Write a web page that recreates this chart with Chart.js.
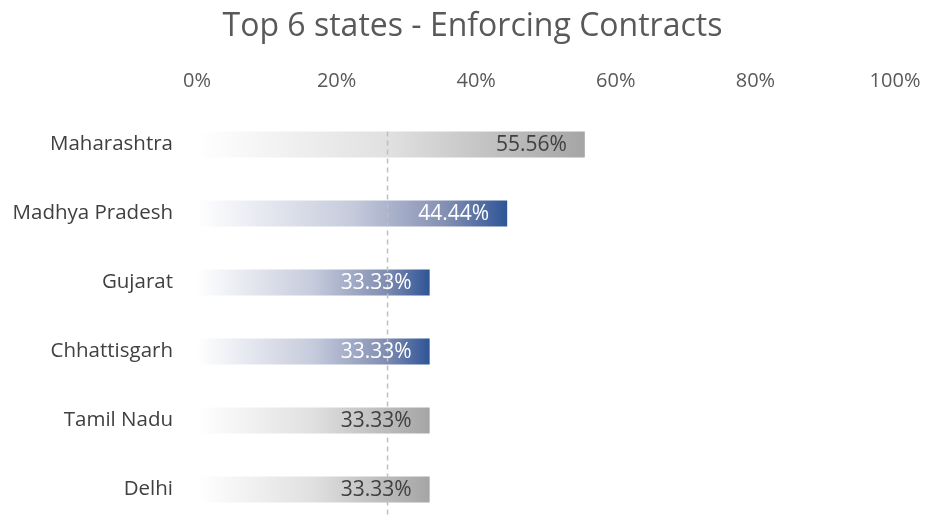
<!DOCTYPE html>
<html>
<head>
<meta charset="utf-8">
<script src="https://cdn.jsdelivr.net/npm/chart.js@4.4.1/dist/chart.umd.min.js"></script>
<style>
    html, body { margin: 0; padding: 0; background: #fff; overflow: hidden; }
    canvas { display: block; }
</style>
</head>
<body>
<canvas id="statesChart" width="925" height="524"></canvas>
<script>
// данные
const states = ["Maharashtra", "Madhya Pradesh", "Gujarat", "Chhattisgarh", "Tamil Nadu", "Delhi"];
const scores = [55.56, 44.44, 33.33, 33.33, 33.33, 33.33];
const highlighted = [false, true, true, true, false, false];
const xTicks = [0, 20, 40, 60, 80, 100];
const referenceLine = 27.3;
const chartTitle = "Top 6 states - Enforcing Contracts";

const FONT = "'Open Sans', 'DejaVu Sans', sans-serif";

function barGradient(context) {
    const chart = context.chart;
    const xScale = chart.scales.x;
    const i = context.dataIndex;
    const fallback = highlighted[i] ? "#2f5597" : "#a6a6a6";
    if (!chart.chartArea || !xScale || i === undefined) return fallback;
    const x0 = xScale.getPixelForValue(0);
    const x1 = xScale.getPixelForValue(scores[i]);
    if (!isFinite(x0) || !isFinite(x1) || x1 <= x0) return fallback;
    const g = chart.ctx.createLinearGradient(x0, 0, x1, 0);
    if (highlighted[i]) {
        g.addColorStop(0, "#ffffff");
        g.addColorStop(0.5, "#c6cbdc");
        g.addColorStop(0.8, "#8490b3");
        g.addColorStop(1, "#2f5597");
    } else {
        g.addColorStop(0, "#ffffff");
        g.addColorStop(0.5, "#e0e0e0");
        g.addColorStop(1, "#a5a5a5");
    }
    return g;
}

// заголовок (чуть правее центра, как в оригинале)
const titlePlugin = {
    id: "customTitle",
    afterDraw(chart) {
        const { ctx } = chart;
        ctx.save();
        ctx.font = "32px " + FONT;
        ctx.fillStyle = "#595959";
        ctx.textAlign = "center";
        ctx.textBaseline = "middle";
        ctx.fillText(chartTitle, chart.width / 2 + 10, 27);
        ctx.restore();
    }
};

// пунктирная линия
const refLinePlugin = {
    id: "refLine",
    afterDatasetsDraw(chart) {
        const { ctx, chartArea, scales } = chart;
        const x = scales.x.getPixelForValue(referenceLine);
        const firstBar = chart.getDatasetMeta(0).data[0];
        const top = firstBar ? firstBar.y - firstBar.height / 2 : chartArea.top;
        ctx.save();
        ctx.strokeStyle = "#bfbfbf";
        ctx.lineWidth = 1.5;
        ctx.setLineDash([5, 4]);
        ctx.beginPath();
        ctx.moveTo(x, top);
        ctx.lineTo(x, chartArea.bottom);
        ctx.stroke();
        ctx.restore();
    }
};

// подписи значений
const valueLabelsPlugin = {
    id: "valueLabels",
    afterDraw(chart) {
        const { ctx } = chart;
        const meta = chart.getDatasetMeta(0);
        ctx.save();
        ctx.font = "21px " + FONT;
        ctx.textAlign = "right";
        ctx.textBaseline = "middle";
        meta.data.forEach((bar, i) => {
            ctx.fillStyle = highlighted[i] ? "#ffffff" : "#404040";
            ctx.fillText(scores[i].toFixed(2) + "%", bar.x - 18, bar.y + 1);
        });
        ctx.restore();
    }
};

const ctx = document.getElementById("statesChart").getContext("2d");
new Chart(ctx, {
    type: "bar",
    data: {
        labels: states,
        datasets: [{
            data: scores,
            backgroundColor: barGradient,
            borderWidth: 0,
            categoryPercentage: 1,
            barPercentage: 0.377
        }]
    },
    options: {
        indexAxis: "y",
        responsive: false,
        animation: false,
        layout: { padding: { left: 0, right: 30, top: 52, bottom: 0 } },
        scales: {
            x: {
                position: "top",
                min: 0,
                max: 100,
                afterBuildTicks: scale => {
                    scale.ticks = xTicks.map(v => ({ value: v }));
                },
                afterFit: scale => {
                    scale.height = 58;
                    scale.paddingLeft = 0;
                    scale.paddingRight = 0;
                },
                grid: { display: false, drawTicks: false },
                border: { display: false },
                ticks: {
                    color: "#595959",
                    font: { family: FONT, size: 20 },
                    padding: 17,
                    callback: v => v + "%"
                }
            },
            y: {
                grid: { display: false, drawTicks: false },
                border: { display: false },
                afterFit: scale => {
                    scale.width = 197;
                    scale.paddingTop = 0;
                    scale.paddingBottom = 0;
                },
                ticks: {
                    color: "#404040",
                    font: { family: FONT, size: 20.5 },
                    padding: 24
                }
            }
        },
        plugins: {
            legend: { display: false },
            tooltip: { enabled: false },
            title: { display: false }
        }
    },
    plugins: [refLinePlugin, valueLabelsPlugin, titlePlugin]
});
</script>
</body>
</html>
